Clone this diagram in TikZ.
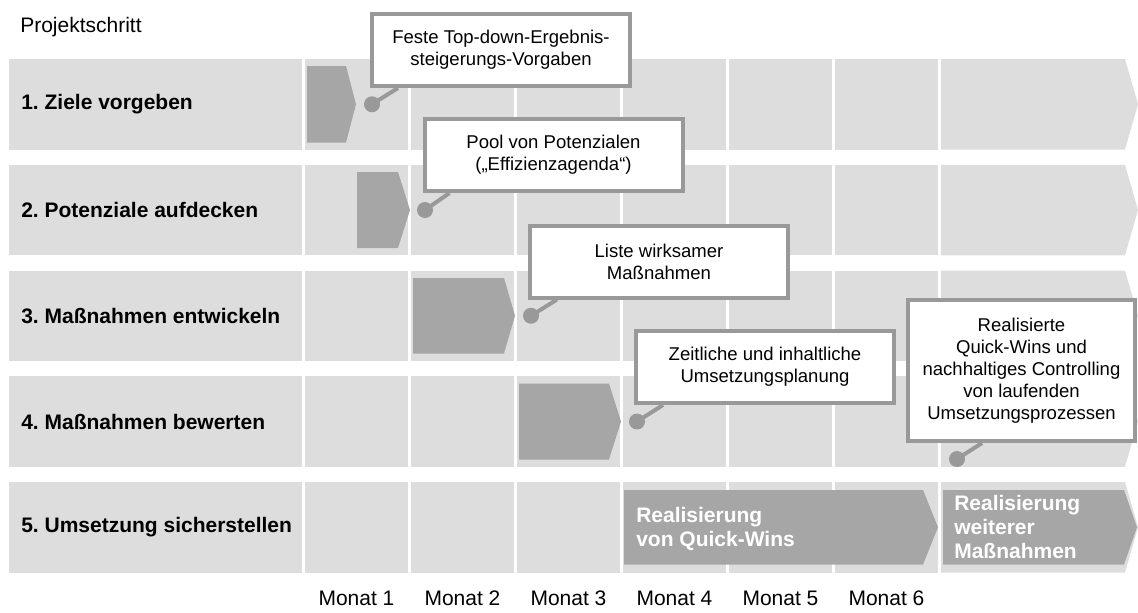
\documentclass[tikz,border=0pt]{standalone}
\usepackage{fontspec}
\setmainfont{Liberation Sans}
\usetikzlibrary{calc}
\definecolor{cellgray}{HTML}{DDDDDD}
\definecolor{bargray}{HTML}{A6A6A6}
\definecolor{framegray}{HTML}{999999}
\frenchspacing

\begin{document}
\begin{tikzpicture}[
        x=0.75pt, y=-0.75pt,
        cell/.style = {fill=cellgray},
        bar/.style = {fill=bargray},
        steplabel/.style = {anchor=west, inner sep=0pt, font=\fontsize{15.75}{18}\selectfont\bfseries},
        month/.style = {inner sep=0pt, font=\fontsize{15.75}{18}\selectfont},
        callout/.style = {draw=framegray, line width=3pt, fill=white, align=center, inner sep=0pt,
            font=\fontsize{13.9}{16.5}\selectfont},
        dot/.style = {circle, fill=framegray, inner sep=0pt, minimum size=12pt},
        stem/.style = {draw=framegray, line width=3pt},
        bartext/.style = {anchor=west, align=left, inner sep=0pt, text=white,
            font=\fontsize{15.75}{18}\selectfont\bfseries}
    ]
        \useasboundingbox (0,0) rectangle (1138,612);

        % grey rows with month cells
        \foreach \r in {0,...,4} {
            \pgfmathsetmacro{\rowtop}{59+105.75*\r}
            \pgfmathsetmacro{\rowbot}{\rowtop+90.5}
            \pgfmathsetmacro{\rowmid}{\rowtop+45.25}
            \fill[cell] (9,\rowtop) rectangle (302,\rowbot);
            \foreach \c in {0,...,5}
                \fill[cell] ({305+106*\c},\rowtop) rectangle ({408+106*\c},\rowbot);
            \fill[cell] (941,\rowtop) -- (1125,\rowtop) -- (1138,\rowmid) -- (1125,\rowbot) -- (941,\rowbot) -- cycle;
        }

        \node[anchor=west, inner sep=0pt, font=\fontsize{15.75}{18}\selectfont] (head) at (20,27) {Projektschritt};
        \node[steplabel] (s1) at (21,104.25) {1. Ziele vorgeben};
        \node[steplabel] (s2) at (21,210) {2. Potenziale aufdecken};
        \node[steplabel] (s3) at (21,315.75) {3. Maßnahmen entwickeln};
        \node[steplabel] (s4) at (21,421.5) {4. Maßnahmen bewerten};
        \node[steplabel] (s5) at (21,527.25) {5. Umsetzung sicherstellen};

        \foreach \c in {1,...,6}
            \node[month] (m\c) at ({356.5+106*(\c-1)},598) {Monat \c};

        % phase bars
        \fill[bar] (307,66) -- (346,66) -- (356,104.25) -- (346,142.5) -- (307,142.5) -- cycle;
        \fill[bar] (357,172) -- (398,172) -- (410,210) -- (398,248) -- (357,248) -- cycle;
        \fill[bar] (413,278) -- (504,278) -- (515,315.75) -- (504,353.5) -- (413,353.5) -- cycle;
        \fill[bar] (519,383.5) -- (609,383.5) -- (621,421.5) -- (609,459.5) -- (519,459.5) -- cycle;
        \fill[bar] (624,490) -- (923,490) -- (938,527.25) -- (923,564.5) -- (624,564.5) -- cycle;
        \fill[bar] (943,490) -- (1124,490) -- (1137,527.25) -- (1124,564.5) -- (943,564.5) -- cycle;

        \node[bartext] (q1) at (636,528.5) {Realisierung\\von Quick-Wins};
        \node[bartext] (q2) at (954,527.25) {Realisierung\\weiterer\\Maßnahmen};

        % results
        \node[callout, minimum width=193.5pt, minimum height=54pt] (c1) at (501,50)
            {Feste Top-down-Ergebnis-\\steigerungs-Vorgaben};
        \node[callout, minimum width=193.5pt, minimum height=54pt] (c2) at (553.5,155)
            {Pool von Potenzialen\\(„Effizienzagenda“)};
        \node[callout, minimum width=193.5pt, minimum height=54pt] (c3) at (659,261.5)
            {Liste wirksamer\\Maßnahmen};
        \node[callout, minimum width=193.5pt, minimum height=54pt] (c4) at (765,367)
            {Zeitliche und inhaltliche\\Umsetzungsplanung};
        \node[callout, minimum width=170.25pt, minimum height=105.75pt] (c5) at (1021.5,370.5)
            {Realisierte\\Quick-Wins und\\nachhaltiges Controlling\\von laufenden\\Umsetzungsprozessen};

        \node[dot] (d1) at (372,104.25) {};
        \node[dot] (d2) at (425,210) {};
        \node[dot] (d3) at (531,315.75) {};
        \node[dot] (d4) at (637,421.5) {};
        \node[dot] (d5) at (957,459) {};

        \draw[stem] (d1.center) -- ($(c1.south west)+(28,0)$);
        \draw[stem] (d2.center) -- ($(c2.south west)+(27,0)$);
        \draw[stem] (d3.center) -- ($(c3.south west)+(29,0)$);
        \draw[stem] (d4.center) -- ($(c4.south west)+(29,0)$);
        \draw[stem] (d5.center) -- ($(c5.south west)+(76,0)$);
    \end{tikzpicture}
\end{document}
